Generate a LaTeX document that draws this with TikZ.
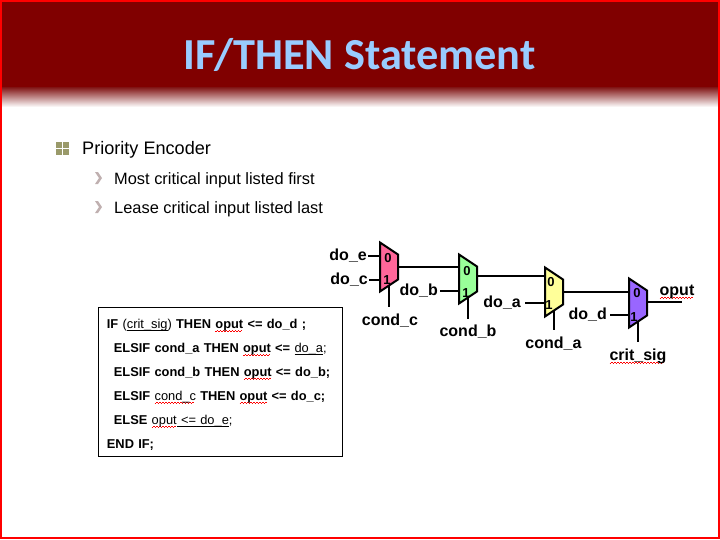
\documentclass[tikz,border=0pt]{standalone}
\usepackage{fontspec}
\setmainfont{Liberation Sans}
\newfontfamily\titlefont{Carlito}

\definecolor{banner}{HTML}{800000}
\definecolor{titleblue}{HTML}{99CCFF}
\definecolor{bulletgreen}{HTML}{9A9A6A}
\definecolor{chevrongrey}{HTML}{C0B0B0}

\newcommand{\squig}[1]{\leavevmode\setbox0=\hbox{#1}\rlap{\textcolor{red}{\hbox to\wd0{\leaders\hbox{\rule[-3.3pt]{1.5pt}{.8pt}\rule[-2.4pt]{1.5pt}{.8pt}}\hfill}}}\box0\relax}
\newcommand{\lineunder}[1]{\leavevmode\setbox0=\hbox{#1}\rlap{\rule[-2.4pt]{\wd0}{.7pt}}\box0\relax}

\tikzset{
	muxspot/.style={inner sep=0pt, minimum width=18pt, minimum height=37pt},
	bitlabel/.style={inner sep=0pt, font=\fontsize{13}{13}\selectfont\bfseries},
	inlabel/.style={anchor=east, inner sep=1pt, text height=12pt, text depth=3pt, font=\fontsize{16}{16}\selectfont\bfseries},
	selectlabel/.style={anchor=base, inner xsep=1pt, inner ysep=6pt, text height=12pt, font=\fontsize{16}{16}\selectfont\bfseries},
	wire/.style={line width=2pt},
	bullettext/.style={anchor=west, inner sep=0pt, text=black},
}

\begin{document}
\begin{tikzpicture}[x=1pt, y=-1pt]
	\useasboundingbox (0,0) rectangle (720,539);
	\fill [white] (0,0) rectangle (720,539);

	% banner
	\fill [banner] (0,0) rectangle (720,87);
	\shade [top color=banner!85!gray, bottom color=white] (0,87) rectangle (720,107);
	\node [anchor=base, inner sep=0pt, text=titleblue, font=\fontsize{44.3}{44}\selectfont\titlefont\bfseries] (title) at (359.5,69) {IF/THEN Statement};

	% bullets
	\foreach \i in {56,63}{
		\foreach \j in {142,149}{
			\fill [bulletgreen] (\i,\j) rectangle +(6,6);
		}
	}
	\foreach \j in {178,207}{
		\fill [chevrongrey] (95,\j-6) -- (98,\j-6) -- (102,\j) -- (98,\j+6) -- (95,\j+6) -- (99,\j) -- cycle;
	}
	\node [bullettext, font=\fontsize{18.1}{18}\selectfont] (priority) at (82,150) {Priority Encoder};
	\node [bullettext, font=\fontsize{16.4}{16}\selectfont] (critical) at (114,180) {Most critical input listed first};
	\node [bullettext, font=\fontsize{16.4}{16}\selectfont] (lease) at (114,209) {Lease critical input listed last};

	% code
	\node [draw=black, line width=.8pt, anchor=north west, minimum width=244pt, minimum height=149pt, inner xsep=8.5pt, inner ysep=0pt, text width=227pt, align=left, font=\fontsize{12.85}{24}\selectfont] (code) at (98,307) {%
		\rule{0pt}{15.4pt}\textbf{IF} (\lineunder{crit\_sig}) \textbf{THEN \squig{oput} <= do\_d ;}\\
		\hspace*{7pt}\textbf{ELSIF cond\_a THEN \squig{oput} <=} \lineunder{do\_a};\\
		\hspace*{7pt}\textbf{ELSIF cond\_b THEN \squig{oput} <= do\_b;}\\
		\hspace*{7pt}\textbf{ELSIF} \squig{cond\_c} \textbf{THEN \squig{oput} <= do\_c;}\\
		\hspace*{7pt}\textbf{ELSE} \squig{oput}\lineunder{ <= do\_e};\\
		\textbf{END IF;}};

	% muxes
	\foreach \n/\x/\y/\c/\ox/\oy/\ix/\iy in {c/389/267/FF6699/-1/-9/-2/13, b/468/279/99FF99/-1/-8/-2/14, a/554/292/FFFF99/-3/-9.5/-5/13, d/638/303/9966FF/-1/-10/-4/13.7}{
		\definecolor{muxfill}{HTML}{\c}
		\node [muxspot] (mux\n) at (\x,\y) {};
		\draw [wire, fill=muxfill] (\x-9,\y-24.5) -- (\x+9,\y-12.5) -- (\x+9,\y+12.5) -- (\x-9,\y+24.5) -- cycle;
		\node [bitlabel] (mux\n0) at (\x+\ox,\y+\oy) {0};
		\node [bitlabel] (mux\n1) at (\x+\ix,\y+\iy) {1};
	}

	\node [inlabel] (doe) at (368,256) {do\_e};
	\node [inlabel] (doc) at (369,280) {do\_c};
	\node [inlabel, inner xsep=2pt] (dob) at (440,291) {do\_b};
	\node [inlabel, inner xsep=4pt] (doa) at (525,303) {do\_a};
	\node [inlabel, inner xsep=3pt] (dod) at (610,315) {do\_d};
	\node [selectlabel] (condc) at (390,325) {cond\_c};
	\node [selectlabel] (condb) at (468,336.7) {cond\_b};
	\node [selectlabel] (conda) at (553.5,348) {cond\_a};
	\node [selectlabel] (critsig) at (638,360) {\squig{crit\_sig}};
	\node [anchor=base, inner sep=0pt, font=\fontsize{16}{16}\selectfont\bfseries] (oput) at (677,295) {\squig{oput}};
	\coordinate (outend) at (682,302);

	\draw [wire] (doe.east) -- (doe.east -| muxc.west);
	\draw [wire] (doc.east) -- (doc.east -| muxc.west);
	\draw [wire] (dob.east) -- (dob.east -| muxb.west);
	\draw [wire] (doa.east) -- (doa.east -| muxa.west);
	\draw [wire] (dod.east) -- (dod.east -| muxd.west);

	\draw [wire] (muxc.east) -- (muxc.east -| muxb.west);
	\draw [wire] ([yshift=3pt]muxb.east) -- ([yshift=3pt]muxb.east -| muxa.west);
	\draw [wire] (muxa.east) -- (muxa.east -| muxd.west);
	\draw [wire] (muxd.east) -- (muxd.east |- outend) -- (outend);

	\draw [wire] (muxc.south) -- (muxc.south |- condc.north);
	\draw [wire] (muxb.south) -- (muxb.south |- condb.north);
	\draw [wire] (muxa.south) -- (muxa.south |- conda.north);
	\draw [wire] (muxd.south) -- (muxd.south |- critsig.north);

	% slide border
	\draw [red, line width=2pt] (1,1) rectangle (719,538);
\end{tikzpicture}
\end{document}
